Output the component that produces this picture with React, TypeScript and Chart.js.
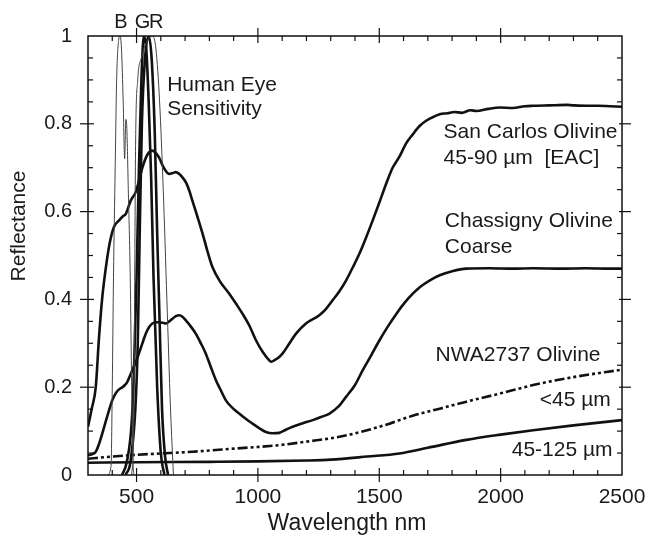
import React, { useEffect, useRef } from "react";
import { Chart, registerables } from "chart.js";
Chart.register(...registerables);

const FONT = '"Liberation Sans", Arial, Helvetica, sans-serif';

const xTickValues = [500, 1000, 1500, 2000, 2500];
const yTickValues = [0, 0.2, 0.4, 0.6, 0.8, 1];
const xAxisTitle = "Wavelength nm";
const yAxisTitle = "Reflectance";

const sanCarlosWl = [300, 315, 332, 345, 358, 373, 390, 407, 428, 445, 456, 476, 497, 510, 524, 545, 565, 580, 593, 612, 634, 650, 662, 675, 689, 705, 717, 730, 750, 772, 792, 813, 845, 882, 910, 937, 965, 992, 1020, 1047, 1055, 1070, 1088, 1102, 1130, 1157, 1198, 1253, 1280, 1308, 1335, 1363, 1390, 1418, 1445, 1473, 1500, 1528, 1555, 1583, 1610, 1638, 1666, 1693, 1720, 1749, 1780, 1810, 1840, 1876, 1900, 1950, 1996, 2050, 2100, 2134, 2200, 2271, 2300, 2354, 2400, 2450, 2500];
const sanCarlosR = [0.11, 0.15, 0.2, 0.31, 0.4, 0.47, 0.53, 0.565, 0.58, 0.59, 0.595, 0.625, 0.645, 0.67, 0.7, 0.73, 0.739, 0.733, 0.723, 0.7, 0.686, 0.688, 0.69, 0.686, 0.678, 0.665, 0.648, 0.625, 0.59, 0.55, 0.51, 0.473, 0.44, 0.413, 0.39, 0.367, 0.34, 0.307, 0.28, 0.261, 0.258, 0.262, 0.269, 0.277, 0.3, 0.322, 0.345, 0.364, 0.378, 0.398, 0.418, 0.443, 0.472, 0.504, 0.54, 0.58, 0.62, 0.663, 0.7, 0.725, 0.755, 0.776, 0.795, 0.807, 0.815, 0.822, 0.824, 0.827, 0.825, 0.831, 0.829, 0.834, 0.837, 0.836, 0.84, 0.841, 0.842, 0.843, 0.842, 0.841, 0.841, 0.84, 0.839];

const chassignyWl = [300, 315, 332, 345, 359, 372, 387, 400, 414, 428, 442, 452, 462, 472, 483, 497, 510, 524, 538, 552, 565, 580, 593, 607, 621, 635, 648, 662, 676, 690, 703, 724, 744, 765, 785, 806, 827, 848, 868, 895, 923, 950, 978, 1005, 1033, 1061, 1088, 1115, 1143, 1185, 1226, 1260, 1295, 1330, 1363, 1400, 1432, 1466, 1501, 1535, 1570, 1604, 1638, 1672, 1707, 1749, 1800, 1859, 1950, 2050, 2134, 2250, 2350, 2450, 2500];
const chassignyR = [0.045, 0.047, 0.053, 0.07, 0.095, 0.12, 0.148, 0.17, 0.186, 0.195, 0.2, 0.205, 0.212, 0.225, 0.239, 0.258, 0.277, 0.3, 0.322, 0.337, 0.345, 0.348, 0.348, 0.347, 0.345, 0.35, 0.356, 0.362, 0.364, 0.36, 0.352, 0.338, 0.322, 0.3, 0.277, 0.246, 0.216, 0.192, 0.17, 0.153, 0.14, 0.128, 0.117, 0.107, 0.098, 0.095, 0.096, 0.103, 0.11, 0.118, 0.125, 0.132, 0.14, 0.155, 0.178, 0.205, 0.239, 0.272, 0.307, 0.338, 0.367, 0.392, 0.413, 0.43, 0.443, 0.455, 0.464, 0.47, 0.471, 0.47, 0.471, 0.47, 0.471, 0.47, 0.47];

const nwaFineWl = [300, 400, 497, 600, 730, 900, 1088, 1200, 1336, 1450, 1542, 1583, 1650, 1749, 1859, 2000, 2134, 2300, 2500];
const nwaFineR = [0.037, 0.042, 0.046, 0.049, 0.053, 0.06, 0.068, 0.076, 0.087, 0.102, 0.117, 0.125, 0.137, 0.151, 0.167, 0.186, 0.205, 0.223, 0.24];

const nwaCoarseWl = [300, 500, 800, 1000, 1200, 1300, 1450, 1583, 1700, 1859, 2000, 2134, 2300, 2500];
const nwaCoarseR = [0.028, 0.029, 0.03, 0.031, 0.033, 0.035, 0.042, 0.049, 0.062, 0.08, 0.092, 0.102, 0.113, 0.125];

const eyeBlueWl = [380, 395, 400, 405, 412, 418, 426, 432, 438, 445, 451, 456, 460, 466, 474, 480, 486, 490];
const eyeBlueR = [0, 0.02, 0.2, 0.45, 0.7, 0.9, 0.99, 1.0, 0.97, 0.85, 0.72, 0.81, 0.79, 0.65, 0.45, 0.2, 0.02, 0];

const eyeRedThinWl = [480, 488, 492, 496, 505, 520, 545, 565, 580, 595, 610, 625, 640, 652];
const eyeRedThinR = [0, 0.1, 0.4, 0.75, 0.9, 0.95, 0.99, 1.0, 0.97, 0.85, 0.65, 0.4, 0.15, 0];

const eyeGreenWl = [440, 460, 480, 490, 500, 510, 520, 530, 540, 550, 560, 570, 585, 600, 615];
const eyeGreenR = [0, 0.03, 0.12, 0.25, 0.45, 0.7, 0.9, 1.0, 0.97, 0.85, 0.68, 0.45, 0.2, 0.05, 0];

const eyeRedWl = [455, 475, 495, 505, 513, 522, 535, 550, 562, 575, 585, 595, 605, 618, 630];
const eyeRedR = [0, 0.03, 0.15, 0.3, 0.55, 0.8, 0.95, 1.0, 0.95, 0.78, 0.55, 0.35, 0.15, 0.04, 0];

// annotation texts with anchor wavelength / reflectance and alignment
const labelTexts = ["B", "G", "R", "Human Eye", "Sensitivity", "San Carlos Olivine", "45-90 µm  [EAC]", "Chassigny Olivine", "Coarse", "NWA2737 Olivine", "<45 µm", "45-125 µm"];
const labelWl = [436, 525, 581, 626, 626, 1765, 1765, 1770, 1770, 1732, 2454, 2461];
const labelR = [1.03, 1.03, 1.03, 0.888, 0.834, 0.78, 0.721, 0.577, 0.52, 0.273, 0.171, 0.057];
const labelAlign = ["center", "center", "center", "left", "left", "left", "left", "left", "left", "left", "right", "right"];

const zip = (xs: number[], ys: number[]) => xs.map((x, i) => ({ x, y: ys[i] }));

const axesPlugin = {
  id: "framePlugin",
  afterDatasetsDraw(chart: any) {
    const { ctx, chartArea, scales } = chart;
    const { left, right, top, bottom } = chartArea;
    const xs = scales.x;
    const ys = scales.y;
    ctx.save();
    ctx.strokeStyle = "#111";
    ctx.lineWidth = 1.5;
    ctx.strokeRect(left, top, right - left, bottom - top);
    ctx.lineWidth = 1.2;
    const seg = (x1: number, y1: number, x2: number, y2: number) => {
      ctx.beginPath();
      ctx.moveTo(x1, y1);
      ctx.lineTo(x2, y2);
      ctx.stroke();
    };
    for (let v = 400; v < 2500; v += 100) {
      const px = xs.getPixelForValue(v);
      const major = v % 500 === 0;
      if (major) {
        seg(px, bottom + 7, px, bottom - 7);
        seg(px, top - 8, px, top + 7);
      } else {
        seg(px, bottom, px, bottom - 5);
        seg(px, top, px, top + 5);
      }
    }
    for (let i = 1; i < 20; i++) {
      const v = i * 0.05;
      const py = ys.getPixelForValue(v);
      const major = i % 4 === 0;
      if (major) {
        seg(left - 8, py, left + 6, py);
        seg(right - 3, py, right + 9, py);
      } else {
        seg(left, py, left + 5, py);
        seg(right, py, right - 5, py);
      }
    }
    ctx.fillStyle = "#1a1a1a";
    ctx.textBaseline = "middle";
    labelTexts.forEach((t, i) => {
      ctx.font = i < 3 ? `20px ${FONT}` : `21px ${FONT}`;
      ctx.textAlign = labelAlign[i];
      const px = xs.getPixelForValue(labelWl[i]);
      const py = ys.getPixelForValue(labelR[i]);
      ctx.fillText(t, px, py);
    });
    // axis titles
    ctx.textAlign = "center";
    ctx.font = `23px ${FONT}`;
    ctx.fillText(xAxisTitle, 347, 524);
    ctx.font = `21px ${FONT}`;
    ctx.save();
    ctx.translate(19, 226);
    ctx.rotate(-Math.PI / 2);
    ctx.fillText(yAxisTitle, 0, 0);
    ctx.restore();
    ctx.restore();
  },
};

export default function App() {
  const ref = useRef<HTMLCanvasElement | null>(null);
  useEffect(() => {
    if (!ref.current) return;
    const thick = (data: any[], extra: any = {}) => ({
      data,
      borderColor: "#111",
      borderWidth: 2.6,
      pointRadius: 0,
      fill: false,
      cubicInterpolationMode: "monotone",
      ...extra,
    });
    const thin = (data: any[]) => ({
      data,
      borderColor: "#444",
      borderWidth: 1,
      pointRadius: 0,
      fill: false,
      cubicInterpolationMode: "monotone",
    });
    const chart = new Chart(ref.current, {
      type: "line",
      data: {
        datasets: [
          thin(zip(eyeBlueWl, eyeBlueR)),
          thin(zip(eyeRedThinWl, eyeRedThinR)),
          thick(zip(eyeGreenWl, eyeGreenR)),
          thick(zip(eyeRedWl, eyeRedR)),
          thick(zip(sanCarlosWl, sanCarlosR)),
          thick(zip(chassignyWl, chassignyR)),
          thick(zip(nwaFineWl, nwaFineR), { borderDash: [10, 3, 3, 3, 3, 3] }),
          thick(zip(nwaCoarseWl, nwaCoarseR)),
        ] as any,
      },
      options: {
        animation: false,
        responsive: true,
        maintainAspectRatio: false,
        layout: { padding: { top: 36, right: 26, left: 0, bottom: 0 } },
        plugins: { legend: { display: false }, tooltip: { enabled: false } },
        scales: {
          x: {
            type: "linear",
            min: 300,
            max: 2500,
            grid: { display: false, drawTicks: false },
            border: { display: false },
            ticks: {
              color: "#1a1a1a",
              font: { size: 21, family: FONT },
              padding: 10,
              maxRotation: 0,
              callback: (v: any) => String(v),
            },
            afterBuildTicks: (s: any) => {
              s.ticks = xTickValues.map((v) => ({ value: v }));
            },
            afterFit: (s: any) => {
              s.height = 61;
              s.paddingRight = 0;
              s.paddingLeft = 0;
            },
          },
          y: {
            type: "linear",
            min: 0,
            max: 1,
            grid: { display: false, drawTicks: false },
            border: { display: false },
            ticks: {
              color: "#1a1a1a",
              font: { size: 20, family: FONT },
              padding: 16,
              callback: (v: any) => String(Math.round(Number(v) * 10) / 10),
            },
            afterBuildTicks: (s: any) => {
              s.ticks = yTickValues.map((v) => ({ value: v }));
            },
            afterFit: (s: any) => {
              s.width = 88;
              s.paddingTop = 0;
              s.paddingBottom = 0;
            },
          },
        },
      } as any,
      plugins: [axesPlugin],
    });
    return () => chart.destroy();
  }, []);
  return (
    <div style={{ position: "absolute", left: 0, top: 0, width: 648, height: 536, background: "#fff" }}>
      <canvas ref={ref} />
    </div>
  );
}
